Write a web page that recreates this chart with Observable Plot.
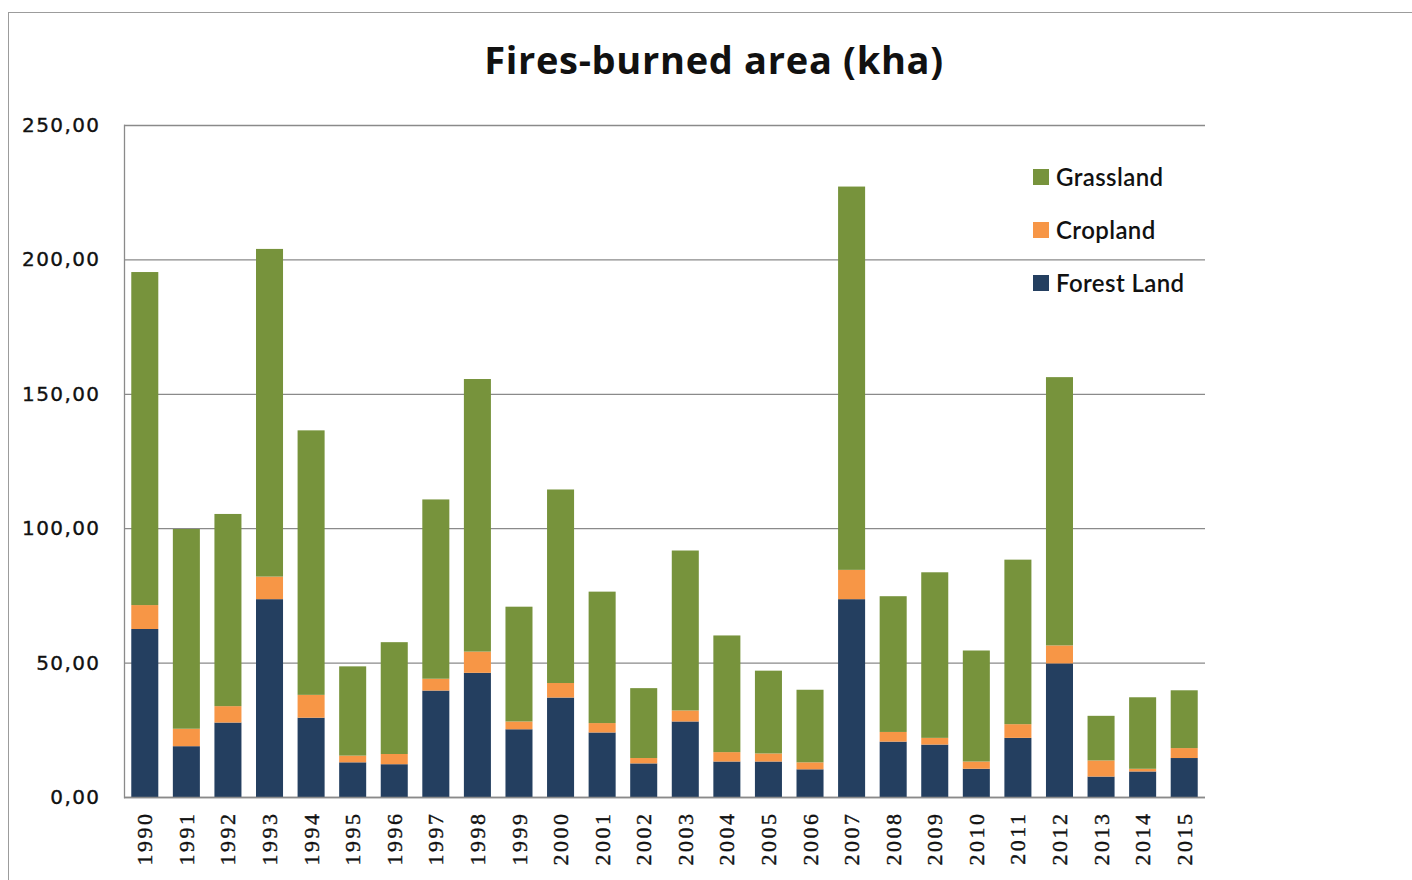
<!DOCTYPE html>
<html><head><meta charset="utf-8">
<script src="https://cdn.jsdelivr.net/npm/d3@7"></script>
<script src="https://cdn.jsdelivr.net/npm/@observablehq/plot@0.6"></script>
<style>
body{margin:0;background:#fff;}
#wrap{position:relative;width:1412px;height:880px;overflow:hidden;background:#fff;}
#frame{position:absolute;left:8px;top:12px;width:1420px;height:900px;border:1.5px solid #9c9c9c;box-sizing:border-box;}
#title{position:absolute;left:8px;width:1412px;top:33px;text-align:center;font:700 38px "Open Sans", sans-serif;letter-spacing:0.7px;color:#111;}
#chart{position:absolute;left:0;top:100px;}
#legend{position:absolute;left:1033px;top:150px;font:600 24px Lato, sans-serif;color:#111;letter-spacing:0.4px;}
#legend .row{display:flex;align-items:center;height:53px;}
#legend .sw{width:16px;height:16px;margin-right:7px;}
g[aria-label="y-axis tick label"] text{letter-spacing:1.4px;stroke:#111;stroke-width:0.35px;}
g[aria-label="x-axis tick label"] text{letter-spacing:2.5px;stroke:#111;stroke-width:0.4px;}
</style>
</head><body>
<div id="wrap">
  <div id="frame"></div>
  <div id="title">Fires-burned area (kha)</div>
  <div id="chart"></div>
  <div id="legend"></div>
</div>
<script>
const years = ["1990","1991","1992","1993","1994","1995","1996","1997","1998","1999","2000","2001","2002","2003","2004","2005","2006","2007","2008","2009","2010","2011","2012","2013","2014","2015"];
const forestLand = [62.5,18.9,27.7,73.6,29.5,12.9,12.2,39.6,46.2,25.2,37.0,24.0,12.5,28.1,13.2,13.2,10.3,73.6,20.6,19.5,10.5,22.0,49.7,7.6,9.5,14.5];
const cropland   = [8.9,6.5,6.1,8.4,8.5,2.5,3.8,4.4,7.9,2.9,5.4,3.5,2.0,4.1,3.5,3.0,2.6,10.9,3.6,2.5,2.7,5.1,6.7,6.0,1.0,3.7];
const grassland  = [123.9,74.3,71.5,121.9,98.4,33.2,41.6,66.7,101.4,42.7,72.0,48.9,26.0,59.5,43.4,30.8,27.0,142.6,50.5,61.6,41.3,61.2,99.8,16.6,26.6,21.5];
const seriesNames = ["Forest Land","Cropland","Grassland"];
const seriesColors = ["#243f60","#f79646","#77933c"];
const yTicks = [0,50,100,150,200,250];

const rows = [];
years.forEach((yr,i)=>{
  rows.push({year:yr,type:"Forest Land",value:forestLand[i]});
  rows.push({year:yr,type:"Cropland",value:cropland[i]});
  rows.push({year:yr,type:"Grassland",value:grassland[i]});
});

const chart = Plot.plot({
  width:1412, height:780,
  marginLeft:124, marginRight:207, marginTop:25, marginBottom:83,
  style:{background:"transparent", color:"#111"},
  x:{domain:years, paddingInner:0.35, paddingOuter:0.175, round:false, label:null},
  y:{domain:[0,250], label:null},
  color:{domain:seriesNames, range:seriesColors},
  marks:[
    Plot.gridY(yTicks,{stroke:"#8a8a8a", strokeOpacity:1, strokeWidth:1.3}),
    Plot.barY(rows,{x:"year", y:"value", fill:"type", z:"type", order:seriesNames}),
    Plot.frame({anchor:"left", stroke:"#8a8a8a", strokeWidth:1.3}),
    Plot.ruleY([0],{stroke:"#8a8a8a", strokeWidth:1.5}),
    Plot.axisY(yTicks,{tickSize:0, tickPadding:24, tickFormat:d=>d.toFixed(2).replace(".",","), fontSize:20, fontFamily:"DejaVu Sans", fill:"#111", label:null}),
    Plot.axisX({tickSize:0, tickPadding:14, tickRotate:-90, fontSize:22, fontFamily:"Liberation Serif", fill:"#111", label:null})
  ]
});
document.getElementById("chart").appendChild(chart);

const legend = document.getElementById("legend");
["Grassland","Cropland","Forest Land"].forEach(name=>{
  const r = document.createElement("div"); r.className="row";
  const s = document.createElement("div"); s.className="sw";
  s.style.background = seriesColors[seriesNames.indexOf(name)];
  const t = document.createElement("span"); t.textContent = name;
  r.appendChild(s); r.appendChild(t); legend.appendChild(r);
});
</script>
</body></html>
